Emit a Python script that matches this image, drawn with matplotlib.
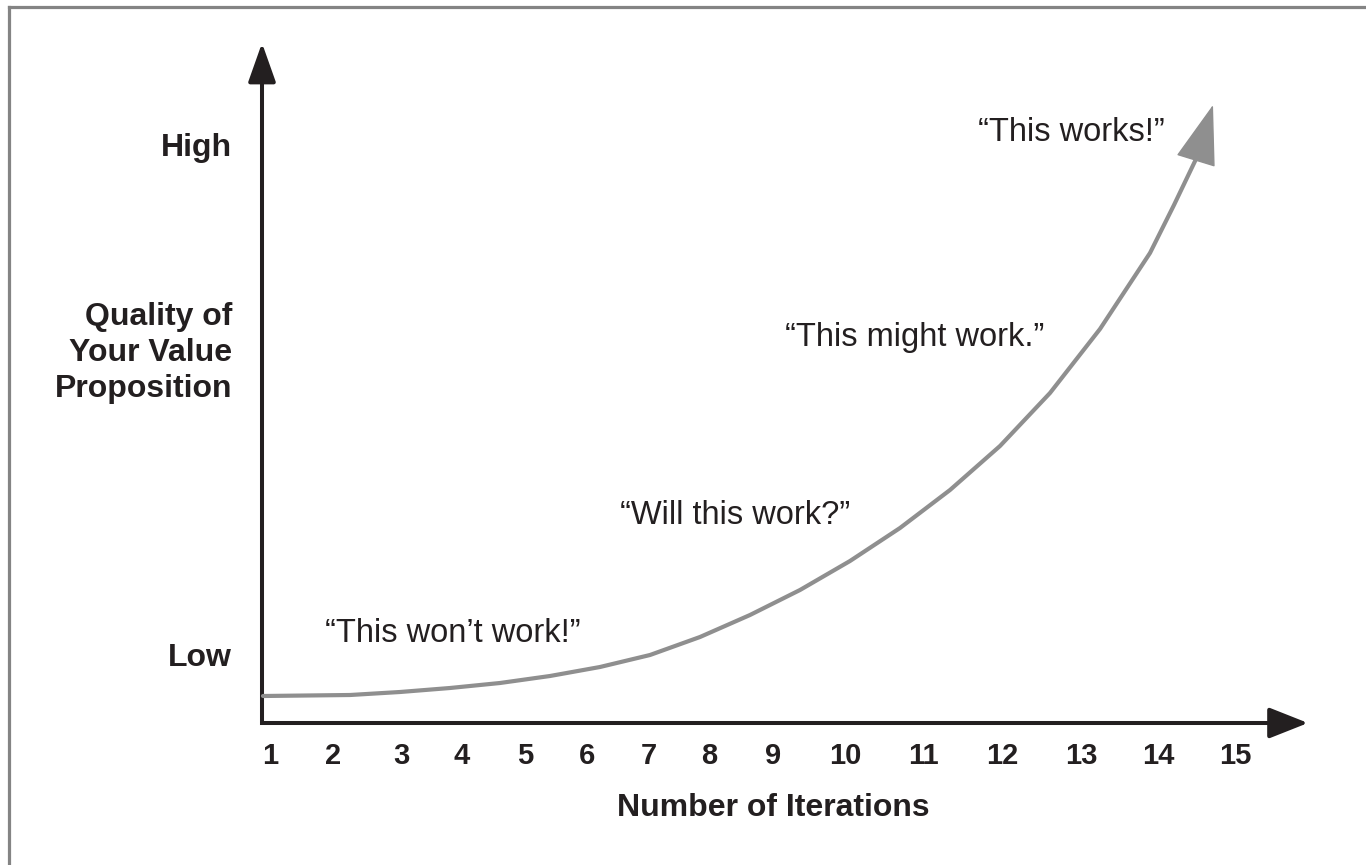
import matplotlib
matplotlib.use("Agg")
import matplotlib.pyplot as plt
from matplotlib.lines import Line2D

plt.rcParams["font.family"] = ["Liberation Sans", "DejaVu Sans"]

W, H, DPI = 1366, 865, 100
INK = "#231f20"
CURVE = "#8f8f8f"

# curve (distance right of / above the axis corner, px)
curve_x = [1, 88, 138, 188, 238, 288, 338, 388, 438, 488, 538, 588, 638, 688, 738, 788, 838, 888, 912, 935]
curve_y = [27, 28, 31, 35, 40, 47, 56, 68, 86, 108, 133, 162, 195, 233, 277, 330, 394, 470, 518, 566]
tip_x, tip_y = 951, 618

iter_labels = [str(i) for i in range(1, 16)]
iter_pos = [8, 71, 139, 200, 263, 325, 387, 447, 511, 583, 661, 740, 819, 896, 973]

level_labels = ["Low", "High"]
level_pos = [68, 578]

quotes = ["\u201cThis won\u2019t work!\u201d", "\u201cWill this work?\u201d",
          "\u201cThis might work.\u201d", "\u201cThis works!\u201d"]
quote_x = [63, 358, 523, 716]
quote_y = [90, 208, 385, 590]

x_max, y_max = 1046, 680

fig = plt.figure(figsize=(W / DPI, H / DPI), dpi=DPI)
ax = fig.add_axes([262 / W, (H - 723) / H, x_max / W, y_max / H])
ax.set_xlim(0, x_max)
ax.set_ylim(0, y_max)
for s in ax.spines.values():
    s.set_visible(False)

# axes: one L-shaped line plus two arrowheads
ax.plot([0, 0, x_max - 30], [y_max - 30, 0, 0], color=INK, lw=2.9,
        solid_joinstyle="miter", solid_capstyle="butt", clip_on=False)
head = dict(mutation_scale=1, color=INK, lw=2.9, shrinkA=0, shrinkB=0)
ax.annotate("", xy=(0, y_max), xytext=(0, y_max - 40), annotation_clip=False,
            arrowprops=dict(arrowstyle="-|>,head_length=24,head_width=8.5", **head))
ax.annotate("", xy=(x_max, 0), xytext=(x_max - 40, 0), annotation_clip=False,
            arrowprops=dict(arrowstyle="-|>,head_length=24,head_width=9.5", **head))

# the curve and its arrowhead
ax.plot(curve_x, curve_y, color=CURVE, lw=3.0, solid_capstyle="round",
        solid_joinstyle="round", clip_on=False)
ax.annotate("", xy=(tip_x, tip_y), xytext=(curve_x[-1], curve_y[-1]),
            annotation_clip=False,
            arrowprops=dict(arrowstyle="-|>,head_length=40,head_width=13.5",
                            mutation_scale=1, color=CURVE, lw=1,
                            shrinkA=0, shrinkB=0))

for s, x, y in zip(quotes, quote_x, quote_y):
    ax.text(x, y, s, ha="left", va="center", fontsize=23.5, color=INK)

ax.set_xticks(iter_pos, iter_labels, fontsize=21, fontweight="bold", color=INK)
ax.set_yticks(level_pos, level_labels, fontsize=23, fontweight="bold", color=INK)
ax.tick_params(axis="x", length=0, pad=14)
ax.tick_params(axis="y", length=0, pad=21.5)

ax.set_xlabel("Number of Iterations", fontsize=23, fontweight="bold",
              color=INK, va="center")
ax.xaxis.set_label_coords(511 / x_max, -85 / y_max)
ax.set_ylabel("Quality of\nYour Value\nProposition", fontsize=23,
              fontweight="bold", color=INK, rotation=0, ha="right",
              va="center", linespacing=1.25)
ax.yaxis.set_label_coords(-30 / x_max, 370 / y_max)

# grey frame on top and left edges
fig.add_artist(Line2D([8.5 / W, 1], [1 - 6.5 / H] * 2, color="#848484", lw=2.3))
fig.add_artist(Line2D([8.5 / W] * 2, [0, 1 - 6.5 / H], color="#848484", lw=2.3))

fig.savefig("out.png", dpi=DPI, facecolor="white")
